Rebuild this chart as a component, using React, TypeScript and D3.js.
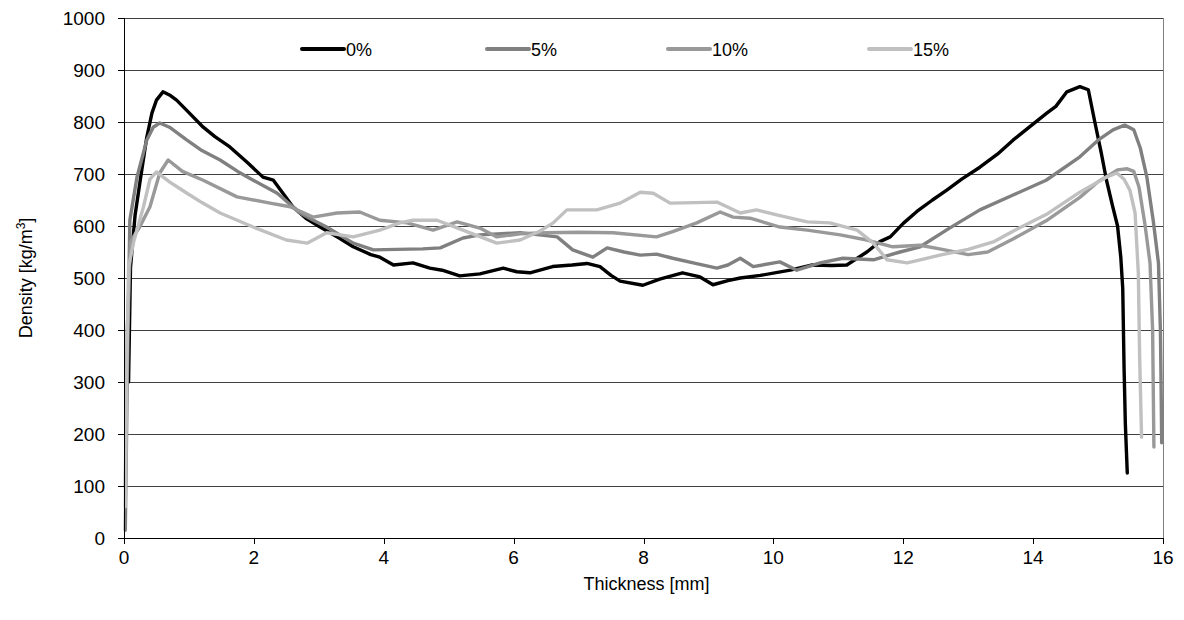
import React from "react";
import * as d3 from "d3";

// thickness [mm], density [kg/m3]
const series0: [number, number][] = [
  [0.07, 300], [0.1, 520], [0.17, 620], [0.25, 688], [0.35, 770], [0.43, 817], [0.5, 842], [0.6, 858],
  [0.7, 852], [0.81, 842], [1.0, 818], [1.22, 790], [1.4, 772], [1.63, 752], [1.9, 722], [2.14, 694],
  [2.3, 688], [2.6, 637], [2.8, 615], [3.02, 598], [3.3, 578], [3.53, 560], [3.8, 545], [3.94, 540],
  [4.15, 525], [4.45, 529], [4.71, 519], [4.9, 515], [5.17, 504], [5.48, 508], [5.84, 519], [6.05, 512],
  [6.25, 510], [6.6, 522], [6.9, 525], [7.13, 528], [7.33, 522], [7.5, 505], [7.64, 494], [7.99, 486],
  [8.25, 498], [8.6, 510], [8.87, 502], [9.07, 487], [9.3, 495], [9.49, 500], [9.8, 505], [10.26, 515],
  [10.6, 525], [10.9, 524], [11.13, 525], [11.44, 550], [11.64, 570], [11.8, 579], [12.0, 605], [12.21, 628],
  [12.45, 650], [12.67, 669], [12.9, 690], [13.18, 713], [13.45, 738], [13.69, 765], [13.95, 791],
  [14.21, 817], [14.35, 830], [14.52, 858], [14.72, 868], [14.85, 862], [14.95, 800], [15.05, 740],
  [15.13, 688], [15.22, 640], [15.3, 600], [15.35, 540], [15.38, 480], [15.4, 330], [15.42, 220], [15.45, 125],
];

const series5: [number, number][] = [
  [0.02, 15], [0.05, 300], [0.09, 611], [0.2, 694], [0.35, 765], [0.45, 790], [0.55, 798], [0.7, 790],
  [0.97, 765], [1.2, 745], [1.48, 727], [1.75, 705], [1.99, 688], [2.36, 663], [2.71, 625], [2.9, 612],
  [3.12, 598], [3.53, 567], [3.84, 554], [4.2, 555], [4.6, 556], [4.87, 558], [5.22, 577], [5.48, 583],
  [6.1, 587], [6.4, 583], [6.67, 579], [6.91, 554], [7.22, 540], [7.44, 558], [7.7, 550], [7.95, 544],
  [8.2, 546], [8.45, 538], [8.8, 528], [9.13, 519], [9.3, 525], [9.49, 538], [9.69, 522], [10.1, 531],
  [10.36, 515], [10.72, 529], [11.07, 538], [11.54, 535], [11.95, 550], [12.26, 560], [12.7, 595],
  [13.18, 631], [13.7, 660], [14.2, 688], [14.72, 733], [15.0, 765], [15.23, 785], [15.41, 794],
  [15.55, 785], [15.65, 750], [15.75, 695], [15.85, 610], [15.93, 529], [15.96, 400], [15.97, 300], [15.98, 183],
];

const series10: [number, number][] = [
  [0.02, 100], [0.05, 400], [0.1, 570], [0.25, 600], [0.4, 637], [0.55, 702], [0.68, 727], [0.9, 705],
  [1.22, 688], [1.74, 656], [2.25, 644], [2.56, 637], [2.91, 617], [3.28, 625], [3.63, 627], [3.94, 611],
  [4.36, 606], [4.76, 592], [5.13, 608], [5.48, 596], [5.74, 579], [6.1, 585], [6.51, 587], [7.0, 588],
  [7.53, 587], [8.2, 579], [8.45, 589], [8.82, 606], [9.18, 627], [9.38, 617], [9.64, 615], [10.1, 598],
  [10.52, 592], [11.03, 583], [11.44, 573], [11.84, 560], [12.26, 563], [12.6, 555], [13.0, 545],
  [13.3, 550], [13.69, 575], [14.2, 610], [14.72, 655], [15.0, 685], [15.2, 700], [15.3, 708], [15.45, 710],
  [15.55, 705], [15.63, 675], [15.72, 605], [15.8, 529], [15.84, 400], [15.86, 175],
];

const series15: [number, number][] = [
  [0.02, 60], [0.04, 300], [0.07, 520], [0.15, 570], [0.3, 637], [0.4, 690], [0.5, 704], [0.7, 685],
  [0.97, 663], [1.2, 645], [1.48, 625], [1.99, 598], [2.5, 573], [2.82, 567], [3.12, 587], [3.53, 579],
  [3.94, 592], [4.25, 606], [4.45, 611], [4.82, 611], [5.22, 592], [5.74, 567], [6.1, 573], [6.4, 590],
  [6.61, 606], [6.82, 631], [7.28, 631], [7.64, 644], [7.8, 655], [7.95, 665], [8.15, 663], [8.41, 644],
  [8.8, 645], [9.13, 646], [9.49, 625], [9.74, 631], [10.1, 620], [10.52, 608], [10.87, 606], [11.29, 592],
  [11.54, 567], [11.75, 535], [12.06, 529], [12.26, 535], [12.6, 545], [13.0, 555], [13.4, 570],
  [13.69, 590], [14.2, 622], [14.72, 665], [15.13, 694], [15.29, 702], [15.4, 690], [15.49, 669],
  [15.57, 625], [15.62, 510], [15.64, 350], [15.67, 194],
];

const seriesNames = ["0%", "5%", "10%", "15%"];
const seriesColors = ["#000000", "#808080", "#999999", "#c0c0c0"];
const xTicks = [0, 2, 4, 6, 8, 10, 12, 14, 16];
const yTicks = [0, 100, 200, 300, 400, 500, 600, 700, 800, 900, 1000];
const legendX = [302, 487, 668, 869];

const W = 1184, H = 620;
const margin = { left: 124, right: 21, top: 18, bottom: 82 };
const font = "'Liberation Sans', Arial, sans-serif";

export default function App() {
  const x = d3.scaleLinear().domain([0, 16]).range([margin.left, W - margin.right]);
  const y = d3.scaleLinear().domain([0, 1000]).range([H - margin.bottom, margin.top]);
  const line = d3
    .line<[number, number]>()
    .x((d) => x(d[0]))
    .y((d) => y(d[1]));
  const allSeries = [series0, series5, series10, series15];
  const x0 = x(0), x1 = x(16), y0 = y(0), y1 = y(1000);

  return (
    <svg width={W} height={H} style={{ position: "absolute", left: 0, top: 0, background: "#fff" }}>
      {/* gridlines */}
      {yTicks.filter((t) => t > 0).map((t) => (
        <line key={t} x1={x0} x2={x1} y1={Math.round(y(t)) + 0.5} y2={Math.round(y(t)) + 0.5} stroke="#404040" strokeWidth={1} />
      ))}
      {/* right border */}
      <line x1={Math.round(x1) + 0.5} x2={Math.round(x1) + 0.5} y1={y1} y2={y0} stroke="#808080" />
      {/* series */}
      {allSeries.map((s, i) => (
        <path key={i} d={line(s) || ""} fill="none" stroke={seriesColors[i]} strokeWidth={3.4} strokeLinejoin="round" strokeLinecap="round" />
      ))}
      {/* axes */}
      <line x1={Math.round(x0) + 0.5} x2={Math.round(x0) + 0.5} y1={y1} y2={y0} stroke="#000" />
      <line x1={x0 - 6} x2={x1} y1={Math.round(y0) + 0.5} y2={Math.round(y0) + 0.5} stroke="#000" />
      {yTicks.map((t) => (
        <g key={t}>
          <line x1={x0 - 6} x2={x0} y1={Math.round(y(t)) + 0.5} y2={Math.round(y(t)) + 0.5} stroke="#000" />
          <text x={x0 - 19} y={y(t) + 7} textAnchor="end" fontFamily={font} fontSize={19}>{t}</text>
        </g>
      ))}
      {xTicks.map((t) => (
        <g key={t}>
          <line x1={Math.round(x(t)) + 0.5} x2={Math.round(x(t)) + 0.5} y1={y0} y2={y0 + 6} stroke="#000" />
          <text x={x(t)} y={y0 + 26} textAnchor="middle" fontFamily={font} fontSize={19}>{t}</text>
        </g>
      ))}
      <text x={(x0 + x1) / 2 + 3} y={590} textAnchor="middle" fontFamily={font} fontSize={18}>Thickness [mm]</text>
      <text transform={`translate(32,${(y0 + y1) / 2}) rotate(-90)`} textAnchor="middle" fontFamily={font} fontSize={18}>
        Density [kg/m<tspan dy={-7} fontSize={12}>3</tspan><tspan dy={7}>]</tspan>
      </text>
      {/* legend */}
      {seriesNames.map((n, i) => (
        <g key={n}>
          <line x1={legendX[i]} x2={legendX[i] + 42} y1={49} y2={49} stroke={seriesColors[i]} strokeWidth={4} strokeLinecap="round" />
          <text x={legendX[i] + 44} y={56} fontFamily={font} fontSize={18}>{n}</text>
        </g>
      ))}
    </svg>
  );
}
